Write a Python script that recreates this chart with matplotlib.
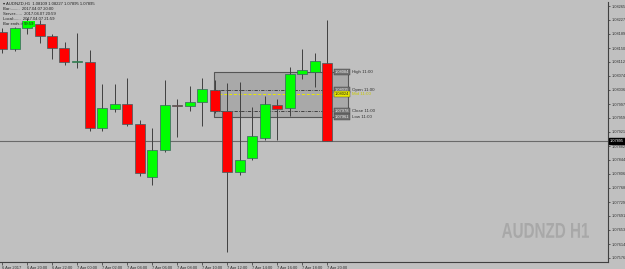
import matplotlib
matplotlib.use("Agg")
import matplotlib.pyplot as plt
from matplotlib.patches import Rectangle, PathPatch
from matplotlib.textpath import TextPath
from matplotlib.font_manager import FontProperties
from matplotlib import transforms

# ---------------- data ----------------
x_labels = ["6 Apr 2017", "6 Apr 20:00", "6 Apr 22:00", "7 Apr 00:00", "7 Apr 02:00",
            "7 Apr 04:00", "7 Apr 06:00", "7 Apr 08:00", "7 Apr 10:00", "7 Apr 12:00",
            "7 Apr 14:00", "7 Apr 16:00", "7 Apr 18:00", "7 Apr 20:00"]
opens  = [1.08194, 1.08147, 1.08205, 1.08216, 1.08183, 1.08150, 1.08112, 1.08112, 1.07931,
          1.07983, 1.07997, 1.07942, 1.07797, 1.07871, 1.07994, 1.07991, 1.08002, 1.08035,
          1.07978, 1.07811, 1.07849, 1.07904, 1.07994, 1.07986, 1.08079, 1.08084, 1.08109]
highs  = [1.08205, 1.08208, 1.08232, 1.08227, 1.08188, 1.08167, 1.08191, 1.08145, 1.08052,
          1.08052, 1.08068, 1.07953, 1.07931, 1.08063, 1.08011, 1.08046, 1.08068, 1.08063,
          1.08054, 1.08057, 1.07989, 1.08019, 1.08011, 1.08098, 1.08147, 1.08136, 1.08227]
lows   = [1.08136, 1.08142, 1.08188, 1.08164, 1.08120, 1.08104, 1.08095, 1.07923, 1.07923,
          1.07975, 1.07937, 1.07800, 1.07775, 1.07866, 1.07906, 1.07978, 1.07937, 1.07972,
          1.07592, 1.07803, 1.07844, 1.07898, 1.07898, 1.07964, 1.08065, 1.08043, 1.07895]
closes = [1.08147, 1.08205, 1.08224, 1.08183, 1.08150, 1.08112, 1.08115, 1.07931, 1.07986,
          1.07997, 1.07942, 1.07808, 1.07871, 1.07994, 1.07991, 1.08002, 1.08038, 1.07978,
          1.07811, 1.07844, 1.07909, 1.07997, 1.07983, 1.08079, 1.08090, 1.08115, 1.07895]
y_ticks = [1.08265, 1.08227, 1.08189, 1.08150, 1.08112, 1.08074, 1.08036, 1.07997, 1.07959,
           1.07921, 1.07882, 1.07844, 1.07806, 1.07768, 1.07729, 1.07691, 1.07653, 1.07614,
           1.07576]
current_price = 1.07895
box_high, box_open, box_mid, box_close, box_low = 1.08084, 1.08035, 1.08024, 1.07978, 1.07961
box_names = ["High 11:00", "Open 11:00", "Mid 11:00", "Close 11:00", "Low 11:00"]
symbol = "AUDNZD H1"

# ---------------- figure ----------------
BG = "#c0c0c0"
FONT = "Liberation Sans"
W, H = 625, 269
fig = plt.figure(figsize=(W / 100, H / 100), dpi=100, facecolor=BG)
ax = fig.add_axes([0, 1 - 262 / H, 608 / W, 260 / H], facecolor=BG)

ax.set_xlim(-0.16, 48.48)
ax.set_ylim(1.07565, 1.08276)

# watermark
fp = FontProperties(family=FONT, weight="bold")
tp = TextPath((0, 0), symbol, prop=fp, size=1)
ext = tp.get_extents()
sx = 87 / ext.width
sy = 15 / ext.height
tr = transforms.Affine2D().translate(-ext.x0, -ext.y0).scale(sx, sy).translate(502, H - 238)
fig.add_artist(PathPatch(tp, transform=tr, facecolor="#a8a8a8", edgecolor="none", zorder=1))

# info box
n = len(opens)
ax.add_patch(Rectangle((16.96, box_low), 27.68 - 16.96, box_high - box_low,
                       facecolor="#a9a9a9", edgecolor="#555555", lw=0.8, zorder=1))
ax.hlines([box_open, box_close], 16.96, 26.5, colors="#303030", lw=0.6,
          linestyles=(0, (4, 1.5, 1, 1.5)), zorder=1.5)
ax.hlines([box_mid], 16.96, 26.5, colors="#e8e800", lw=0.7, linestyles=(0, (3, 2)), zorder=1.5)

# bid line
ax.axhline(current_price, color="#6a6a6a", lw=0.8, zorder=1)

# candles
w = 0.8
for i in range(n):
    o, h, l, c = opens[i], highs[i], lows[i], closes[i]
    ax.vlines(i, l, h, colors="#404040", lw=0.7, zorder=2)
    col = "#00ff00" if c >= o else "#ff0000"
    lo, hi = min(o, c), max(o, c)
    ax.add_patch(Rectangle((i - w / 2, lo), w, max(hi - lo, 0.000015),
                           facecolor=col, edgecolor="#3a6060", lw=0.5, zorder=3))

# box price labels
for val, name in zip([box_high, box_open, box_mid, box_close, box_low], box_names):
    yellow = name.startswith("Mid")
    ax.text(26.62, val, f"{val:.5f}", fontsize=2.9, family=FONT, va="center", ha="left",
            color="#202020" if yellow else "#f0f0f0", zorder=5,
            bbox=dict(boxstyle="square,pad=0.2",
                      fc="#e8e800" if yellow else "#707070",
                      ec="#404040", lw=0.3))
    ax.text(28.0, val, name, fontsize=3.2, family=FONT, va="center", ha="left",
            color="#c8c800" if yellow else "#303030", zorder=5)

# axes styling
for s in ["left", "top"]:
    ax.spines[s].set_visible(False)
ax.spines["right"].set_color("#404040")
ax.spines["bottom"].set_color("#404040")
ax.spines["right"].set_linewidth(0.8)
ax.spines["bottom"].set_linewidth(0.8)

ax.yaxis.tick_right()
ax.set_yticks(y_ticks)
ax.set_yticklabels([f"{v:.5f}" for v in y_ticks], family=FONT)
ax.tick_params(axis="y", labelsize=2.8, length=1.5, width=0.5, pad=1, colors="#303030")
ax.set_xticks(range(0, n, 2))
ax.set_xticklabels(x_labels, ha="left", family=FONT)
ax.tick_params(axis="x", labelsize=2.9, length=2, width=0.5, pad=1, colors="#303030")

# current price label
ax.text(1.003, current_price, f"{current_price:.5f}", transform=ax.get_yaxis_transform(),
        fontsize=2.8, family=FONT, color="white", va="center", ha="left", zorder=6,
        bbox=dict(boxstyle="square,pad=0.3", fc="black", ec="black"))

# top-left info text
info = [f"\u25be AUDNZD,H1  {opens[-1]:.5f} {highs[-1]:.5f} {lows[-1]:.5f} {closes[-1]:.5f}",
        "Bar:........  2017.04.07 20:00",
        "Server:.....  2017.04.07 20:59",
        "Local:......  2017.04.07 21:59",
        "Bar ends in:"]
for k, line in enumerate(info):
    fig.text(3 / W, 1 - (4 + 5 * k) / H, line, fontsize=3.0,
             family=[FONT, "DejaVu Sans"], va="center", ha="left", color="#202020")
fig.text(24 / W, 1 - 24 / H, "59:59", fontsize=3.0, family=FONT, va="center", ha="left",
         color="#202020", bbox=dict(boxstyle="square,pad=0.2", fc="#00ff00", ec="none"))

fig.savefig("out.png", dpi=100, facecolor=BG)
